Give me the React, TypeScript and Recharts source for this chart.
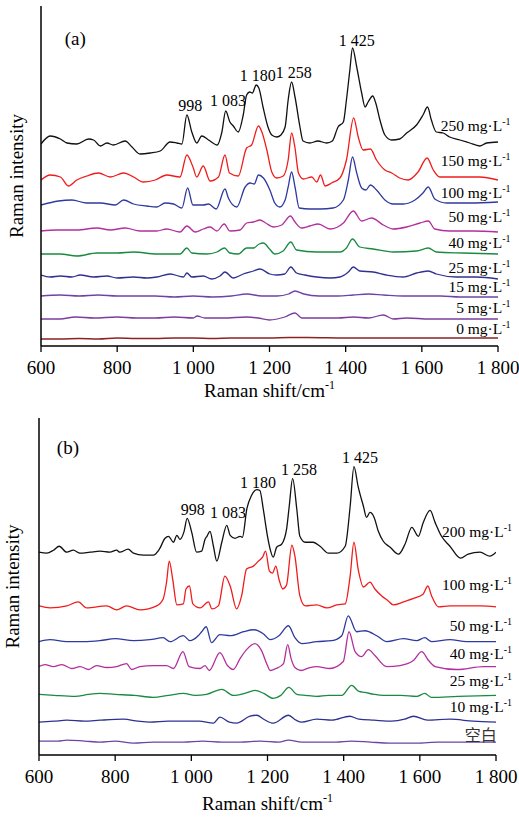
import React from "react";
import { LineChart, Line, XAxis, YAxis, ReferenceDot } from "recharts";

const FONT = "'Liberation Serif', 'Times New Roman', serif";

const shiftTicks = [600, 800, 1000, 1200, 1400, 1600, 1800];

// panel (a) spectra, [Raman shift, intensity incl. stacking offset]
const a250 = [
	[600, 202], [624, 210], [651, 207], [668, 203], [694, 202], [725, 207], [738, 206], [756, 200], [773, 203], [790, 201],
	[821, 205], [839, 199], [860, 192], [887, 193], [913, 195], [939, 204], [957, 203], [970, 202], [983, 231], [996, 214],
	[1009, 203], [1022, 210], [1040, 206], [1063, 201], [1075, 214], [1085, 235], [1096, 224], [1105, 220], [1118, 214], [1131, 231],
	[1140, 251], [1148, 254], [1155, 253], [1165, 261], [1172, 258], [1183, 239], [1196, 219], [1206, 211], [1219, 209], [1230, 211],
	[1241, 219], [1249, 246], [1258, 264], [1267, 249], [1280, 219], [1288, 205], [1306, 203], [1327, 205], [1350, 203], [1365, 205],
	[1380, 219], [1394, 224], [1402, 246], [1411, 276], [1418, 298], [1429, 279], [1442, 253], [1451, 239], [1459, 244], [1471, 250],
	[1479, 243], [1490, 226], [1503, 211], [1521, 206], [1542, 207], [1560, 213], [1586, 221], [1603, 231], [1615, 239], [1625, 226],
	[1638, 214], [1656, 213], [1673, 209], [1700, 206], [1726, 203], [1752, 200], [1770, 203], [1800, 204],
];
const a150 = [
	[600, 166], [624, 171], [651, 169], [672, 160], [694, 166], [720, 170], [751, 173], [782, 169], [817, 173], [843, 169],
	[869, 164], [900, 166], [930, 171], [965, 169], [983, 191], [999, 179], [1009, 169], [1026, 180], [1044, 165], [1066, 169],
	[1083, 191], [1095, 173], [1118, 170], [1140, 198], [1153, 201], [1171, 220], [1180, 214], [1193, 196], [1206, 174], [1219, 168],
	[1236, 170], [1249, 186], [1258, 213], [1267, 198], [1276, 173], [1289, 167], [1311, 169], [1324, 164], [1334, 171], [1346, 160],
	[1363, 163], [1385, 168], [1402, 186], [1421, 228], [1433, 209], [1446, 196], [1465, 197], [1481, 186], [1503, 176], [1521, 173],
	[1542, 168], [1564, 166], [1590, 174], [1614, 188], [1630, 176], [1647, 169], [1700, 169], [1752, 169], [1800, 166],
];
const a100 = [
	[600, 141], [646, 145], [681, 146], [720, 143], [756, 143], [795, 141], [817, 146], [843, 142], [878, 140], [904, 139],
	[926, 143], [948, 142], [970, 138], [985, 158], [999, 141], [1026, 141], [1040, 142], [1060, 137], [1083, 157], [1092, 148],
	[1114, 139], [1136, 159], [1149, 163], [1160, 162], [1171, 171], [1184, 168], [1201, 156], [1214, 143], [1227, 139], [1241, 146],
	[1249, 159], [1258, 174], [1267, 159], [1278, 138], [1306, 137], [1333, 137], [1367, 138], [1394, 146], [1407, 166], [1418, 189],
	[1429, 173], [1442, 158], [1453, 156], [1465, 161], [1481, 156], [1503, 146], [1525, 142], [1551, 142], [1582, 146], [1603, 153],
	[1617, 159], [1634, 147], [1665, 143], [1726, 143], [1800, 144],
];
const a50 = [
	[600, 115], [642, 116], [694, 116], [747, 118], [782, 116], [821, 118], [860, 115], [904, 115], [930, 117], [965, 114],
	[983, 120], [1005, 114], [1026, 117], [1044, 119], [1062, 115], [1081, 122], [1096, 115], [1123, 116], [1140, 123], [1158, 124],
	[1175, 126], [1190, 123], [1210, 119], [1232, 121], [1255, 130], [1267, 124], [1284, 118], [1306, 120], [1328, 122], [1359, 117],
	[1394, 123], [1420, 135], [1442, 125], [1468, 128], [1499, 121], [1525, 117], [1560, 119], [1595, 123], [1617, 125], [1634, 117],
	[1673, 115], [1735, 115], [1800, 114],
];
const a40 = [
	[600, 92], [651, 92], [694, 90], [747, 93], [800, 93], [843, 94], [904, 92], [965, 92], [983, 98], [996, 93],
	[1035, 92], [1062, 94], [1082, 98], [1096, 93], [1118, 92], [1140, 98], [1158, 98], [1173, 102], [1184, 103], [1200, 97],
	[1214, 92], [1236, 95], [1256, 104], [1271, 96], [1324, 94], [1385, 94], [1402, 98], [1418, 107], [1437, 99], [1472, 97],
	[1525, 94], [1586, 95], [1617, 98], [1638, 94], [1708, 93], [1800, 92],
];
const a25 = [
	[600, 71], [624, 69], [651, 70], [681, 69], [703, 71], [738, 69], [773, 70], [800, 68], [843, 69], [878, 68],
	[904, 69], [939, 72], [974, 69], [983, 73], [996, 69], [1026, 70], [1048, 67], [1070, 70], [1083, 74], [1105, 68],
	[1131, 72], [1158, 75], [1175, 77], [1201, 72], [1218, 71], [1240, 72], [1256, 79], [1271, 73], [1293, 71], [1324, 69],
	[1359, 68], [1385, 69], [1407, 74], [1420, 79], [1437, 75], [1472, 74], [1507, 71], [1551, 69], [1586, 73], [1617, 75],
	[1638, 72], [1691, 69], [1743, 69], [1800, 67],
];
const a15 = [
	[600, 50], [650, 51], [700, 50], [750, 51], [800, 50], [850, 50], [900, 50], [950, 49], [1000, 50], [1050, 49],
	[1100, 50], [1140, 52], [1180, 50], [1220, 50], [1250, 52], [1267, 55], [1290, 52], [1330, 50], [1380, 50], [1420, 51],
	[1460, 52], [1500, 51], [1550, 50], [1600, 50], [1650, 50], [1700, 49], [1800, 49],
];
const a5 = [
	[600, 27], [650, 27], [690, 29], [740, 28], [800, 29], [850, 28], [900, 28], [950, 29], [1000, 28], [1010, 30],
	[1030, 28], [1080, 28], [1140, 29], [1170, 28], [1200, 26], [1240, 29], [1267, 33], [1285, 28], [1330, 28], [1380, 28],
	[1420, 29], [1460, 28], [1499, 31], [1525, 27], [1560, 28], [1620, 27], [1700, 27], [1800, 27],
];
const a0 = [
	[600, 7], [650, 7], [700, 7.5], [750, 7], [800, 8], [850, 7.5], [900, 7.5], [950, 8], [1000, 8], [1050, 7.5],
	[1100, 8], [1150, 8], [1200, 8], [1250, 8.5], [1300, 8.5], [1400, 8], [1500, 8], [1600, 8], [1700, 8], [1800, 8],
];

// panel (b) spectra
const b200 = [
	[600, 204], [620, 203], [638, 206], [653, 210], [673, 204], [690, 206], [708, 203], [734, 204], [760, 205], [786, 204],
	[804, 206], [812, 204], [834, 207], [848, 203], [874, 201], [900, 201], [916, 207], [931, 218], [940, 220], [953, 214],
	[962, 221], [970, 217], [981, 225], [989, 238], [1001, 224], [1014, 204], [1027, 205], [1036, 217], [1041, 220], [1049, 225],
	[1058, 210], [1067, 195], [1080, 214], [1093, 231], [1102, 221], [1115, 218], [1128, 220], [1134, 219], [1146, 248], [1158, 261],
	[1172, 267], [1180, 266], [1189, 247], [1200, 220], [1207, 207], [1215, 199], [1224, 209], [1237, 212], [1250, 227], [1257, 250],
	[1266, 278], [1277, 247], [1285, 220], [1299, 214], [1320, 214], [1338, 210], [1360, 203], [1382, 203], [1404, 210], [1417, 250],
	[1427, 290], [1438, 270], [1452, 250], [1460, 239], [1469, 244], [1480, 239], [1491, 225], [1504, 215], [1522, 209], [1544, 202],
	[1561, 212], [1579, 229], [1596, 220], [1609, 234], [1627, 246], [1640, 234], [1657, 220], [1679, 210], [1707, 198], [1727, 202],
	[1758, 204], [1784, 200], [1800, 204],
];
const b100 = [
	[600, 150], [629, 148], [673, 150], [703, 154], [725, 148], [778, 150], [804, 146], [830, 150], [865, 146], [909, 150],
	[926, 157], [935, 174], [942, 195], [951, 177], [962, 151], [979, 152], [986, 167], [995, 170], [1004, 152], [1023, 148],
	[1045, 154], [1054, 147], [1071, 150], [1088, 180], [1102, 170], [1119, 147], [1132, 160], [1145, 187], [1163, 190], [1176, 195],
	[1187, 199], [1195, 205], [1205, 185], [1213, 183], [1222, 190], [1230, 177], [1240, 167], [1250, 171], [1264, 211], [1272, 200],
	[1285, 160], [1299, 150], [1329, 151], [1356, 148], [1382, 151], [1404, 152], [1417, 180], [1427, 214], [1438, 187], [1452, 169],
	[1469, 174], [1482, 167], [1500, 160], [1517, 155], [1530, 151], [1557, 154], [1587, 158], [1609, 162], [1621, 170], [1631, 160],
	[1649, 149], [1679, 150], [1727, 150], [1760, 150], [1800, 149],
];
const b50 = [
	[600, 114], [629, 116], [673, 114], [717, 114], [760, 115], [800, 117], [848, 115], [891, 116], [926, 118], [944, 114],
	[979, 120], [996, 115], [1018, 120], [1027, 124], [1039, 129], [1053, 113], [1075, 121], [1102, 120], [1137, 124], [1163, 126],
	[1189, 122], [1207, 116], [1230, 120], [1255, 130], [1272, 118], [1290, 112], [1329, 114], [1369, 115], [1395, 120], [1412, 140],
	[1434, 124], [1456, 125], [1487, 120], [1513, 114], [1557, 117], [1592, 115], [1613, 118], [1631, 114], [1679, 116], [1723, 114],
	[1800, 114],
];
const b40 = [
	[600, 89], [616, 91], [638, 89], [660, 91], [686, 87], [708, 89], [730, 86], [751, 90], [778, 88], [804, 89],
	[830, 92], [843, 86], [865, 89], [900, 90], [935, 90], [953, 87], [978, 104], [994, 89], [1023, 87], [1036, 90],
	[1047, 85], [1075, 103], [1095, 90], [1110, 86], [1128, 97], [1145, 106], [1167, 112], [1183, 106], [1200, 90], [1207, 85],
	[1222, 87], [1242, 92], [1253, 111], [1262, 97], [1272, 88], [1288, 85], [1311, 88], [1329, 89], [1364, 87], [1399, 94],
	[1414, 124], [1430, 104], [1447, 99], [1465, 106], [1482, 100], [1513, 89], [1548, 90], [1583, 95], [1605, 104], [1623, 95],
	[1640, 89], [1697, 86], [1767, 89], [1800, 89],
];
const b25 = [
	[600, 61], [640, 60], [695, 59], [730, 61], [760, 62], [800, 61], [850, 60], [900, 58], [940, 60], [979, 62],
	[1010, 60], [1040, 61], [1080, 66], [1110, 60], [1140, 62], [1167, 65], [1190, 62], [1215, 57], [1235, 60], [1256, 68],
	[1277, 61], [1300, 60], [1329, 59], [1360, 60], [1395, 60], [1421, 70], [1440, 64], [1455, 63], [1480, 61], [1504, 60],
	[1550, 60], [1592, 59], [1613, 62], [1630, 58], [1700, 59], [1800, 60],
];
const b10 = [
	[600, 33], [640, 34], [673, 35], [720, 34], [760, 35], [822, 36], [860, 34], [891, 33], [940, 34], [979, 34],
	[1020, 34], [1058, 32], [1075, 38], [1100, 33], [1119, 32], [1154, 39], [1172, 40], [1190, 36], [1215, 32], [1255, 40],
	[1275, 35], [1290, 33], [1329, 36], [1369, 35], [1416, 39], [1440, 36], [1480, 35], [1526, 34], [1560, 36], [1583, 39],
	[1620, 35], [1679, 36], [1740, 34], [1800, 33],
];
const bBlank = [
	[600, 14], [650, 14], [673, 15], [720, 14], [760, 13], [800, 14], [848, 12], [900, 13], [950, 13], [979, 13],
	[1030, 14], [1080, 13], [1130, 13], [1180, 14], [1230, 13], [1255, 15], [1290, 13], [1329, 13], [1380, 13], [1420, 14],
	[1470, 13], [1520, 12], [1592, 12], [1650, 13], [1720, 13], [1800, 13],
];

const concA = ["250", "150", "100", "50", "40", "25", "15", "5", "0"];
const concB = ["200", "100", "50", "40", "25", "10"];
const peakNames = ["998", "1 083", "1 180", "1 258", "1 425"];

// where the texts sit, in data units
const concPosA = [[1833, 221], [1833, 186], [1833, 154], [1833, 130], [1833, 104], [1833, 79], [1833, 60], [1833, 39], [1833, 18]];
const concPosB = [[1842, 225], [1842, 172], [1842, 130], [1842, 102], [1842, 75], [1842, 49]];
const peakPosA = [[992, 241], [1091, 246], [1169, 271], [1264, 274], [1429, 306]];
const peakPosB = [[1004, 247], [1096, 244], [1175, 274], [1283, 287], [1443, 299]];

const seriesA = [
	{ id: "a250", pts: a250, color: "#111111" },
	{ id: "a150", pts: a150, color: "#f01c1c" },
	{ id: "a100", pts: a100, color: "#2f3a9f" },
	{ id: "a50", pts: a50, color: "#b22f9c" },
	{ id: "a40", pts: a40, color: "#1a8a40" },
	{ id: "a25", pts: a25, color: "#2e3192" },
	{ id: "a15", pts: a15, color: "#6a44a6" },
	{ id: "a5", pts: a5, color: "#7d3c9e" },
	{ id: "a0", pts: a0, color: "#8b2323" },
];
const seriesB = [
	{ id: "b200", pts: b200, color: "#111111" },
	{ id: "b100", pts: b100, color: "#f01c1c" },
	{ id: "b50", pts: b50, color: "#2f3a9f" },
	{ id: "b40", pts: b40, color: "#b22f9c" },
	{ id: "b25", pts: b25, color: "#1a8a40" },
	{ id: "b10", pts: b10, color: "#2e3192" },
	{ id: "bBlank", pts: bBlank, color: "#6a44a6" },
];

const fmtShift = (v: number) =>
	v >= 1000 ? `${Math.floor(v / 1000)} ${String(v % 1000).padStart(3, "0")}` : String(v);

const Panel = ({ top, height, marginTop, marginBottom, marginRight, yWidth, yMax, series, concs, concPos, peakPos, tag, tagPos, yTitleX, xTitleDy, extraLabel }: any) => (
	<div style={{ position: "absolute", left: 0, top }}>
		<LineChart
			width={519}
			height={height}
			margin={{ top: marginTop, right: marginRight, bottom: marginBottom, left: 0 }}
			style={{ fontFamily: FONT }}
		>
			<XAxis
				type="number"
				dataKey="x"
				domain={[600, 1800]}
				ticks={shiftTicks}
				interval={0}
				allowDataOverflow
				tickFormatter={fmtShift}
				tickSize={6}
				tickMargin={9}
				height={height - marginTop - marginBottom - yMax - 0 > 0 ? 60 : 60}
				axisLine={{ stroke: "#000", strokeWidth: 1.5 }}
				tickLine={{ stroke: "#000", strokeWidth: 1.3 }}
				tick={{ fill: "#000", fontSize: 19, fontFamily: FONT }}
				label={{
					content: (p: any) => {
						const vb = p.viewBox;
						return (
							<text x={vb.x + vb.width / 2} y={vb.y + xTitleDy} textAnchor="middle" fontSize={19} fontFamily={FONT} fill="#000">
								Raman shift/cm<tspan dy={-8} fontSize={12}>-1</tspan>
							</text>
						);
					},
				}}
			/>
			<YAxis
				type="number"
				domain={[0, yMax]}
				allowDataOverflow
				width={yWidth}
				tick={false}
				tickLine={false}
				axisLine={{ stroke: "#000", strokeWidth: 1.5 }}
				label={{
					content: (p: any) => {
						const vb = p.viewBox;
						const cy = vb.y + vb.height / 2;
						return (
							<text x={yTitleX} y={cy} transform={`rotate(-90 ${yTitleX} ${cy})`} textAnchor="middle" fontSize={19} fontFamily={FONT} fill="#000">
								Raman intensity
							</text>
						);
					},
				}}
			/>
			{series.map((s: any) => (
				<Line
					key={s.id}
					data={s.pts.map(([x, y]: number[]) => ({ x, y }))}
					dataKey="y"
					type="monotone"
					stroke={s.color}
					strokeWidth={1.3}
					dot={false}
					activeDot={false}
					isAnimationActive={false}
				/>
			))}
			{concs.map((c: string, i: number) => (
				<ReferenceDot
					key={`c${i}`}
					x={concPos[i][0]}
					y={concPos[i][1]}
					ifOverflow="visible"
					shape={(p: any) => (
						<text x={p.cx} y={p.cy + 5.5} textAnchor="end" fontSize={15.5} fontFamily={FONT} fill="#000">
							{`${c} mg·L`}
							<tspan dy={-6} fontSize={10}>-1</tspan>
						</text>
					)}
				/>
			))}
			{extraLabel && (
				<ReferenceDot
					x={extraLabel.x}
					y={extraLabel.y}
					ifOverflow="visible"
					shape={(p: any) => (
						<text x={p.cx} y={p.cy + 6} textAnchor="end" fontSize={16} fontFamily="'Noto Sans CJK SC', sans-serif" fill="#333">
							{extraLabel.text}
						</text>
					)}
				/>
			)}
			{peakNames.map((t, i) => (
				<ReferenceDot
					key={`p${i}`}
					x={peakPos[i][0]}
					y={peakPos[i][1]}
					ifOverflow="visible"
					shape={(p: any) => (
						<text x={p.cx} y={p.cy + 5.5} textAnchor="middle" fontSize={16} fontFamily={FONT} fill="#000">
							{t}
						</text>
					)}
				/>
			))}
			<ReferenceDot
				x={tagPos[0]}
				y={tagPos[1]}
				ifOverflow="visible"
				shape={(p: any) => (
					<text x={p.cx} y={p.cy + 6.5} textAnchor="middle" fontSize={19} fontFamily={FONT} fill="#000">
						{tag}
					</text>
				)}
			/>
		</LineChart>
	</div>
);

export default function App() {
	return (
		<div style={{ position: "absolute", left: 0, top: 0, width: 519, height: 818, background: "#fff" }}>
			<Panel
				top={0}
				height={410}
				marginTop={6}
				marginBottom={4}
				marginRight={21}
				yWidth={41}
				yMax={340}
				series={seriesA}
				concs={concA}
				concPos={concPosA}
				peakPos={peakPosA}
				tag="(a)"
				tagPos={[690, 308]}
				yTitleX={23}
				xTitleDy={51}
			/>
			<Panel
				top={410}
				height={408}
				marginTop={8}
				marginBottom={3}
				marginRight={23}
				yWidth={39}
				yMax={339}
				series={seriesB}
				concs={concB}
				concPos={concPosB}
				peakPos={peakPosB}
				tag="(b)"
				tagPos={[676, 309]}
				yTitleX={19}
				xTitleDy={55}
				extraLabel={{ text: "空白", x: 1802, y: 20 }}
			/>
		</div>
	);
}
